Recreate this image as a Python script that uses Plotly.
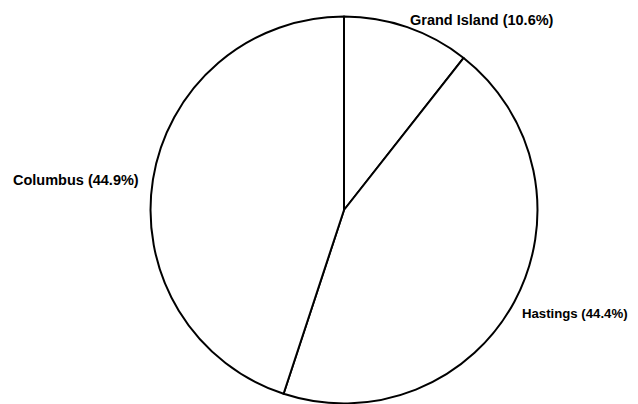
import plotly.graph_objects as go

labels = ["Grand Island", "Hastings", "Columbus"]
values = [10.6, 44.4, 44.9]
label_text = ["Grand Island (10.6%)", "Hastings (44.4%)", "Columbus (44.9%)"]

fig = go.Figure(go.Pie(
    labels=labels,
    values=values,
    sort=False,
    direction="clockwise",
    rotation=0,
    textinfo="none",
    hoverinfo="label+percent",
    marker=dict(colors=["white"] * 3, line=dict(color="black", width=2)),
    domain=dict(x=[0.2234, 0.8299], y=[0.021, 0.979]),
    showlegend=False,
))

W, H = 638, 404
label_pos = [(400, 12), (512, 305), (3, 172)]
label_size = [14.5, 13.2, 14.5]
for txt, (px, py), sz in zip(label_text, label_pos, label_size):
    fig.add_annotation(x=px / W, y=1 - py / H, xref="paper", yref="paper",
                       text="<b>" + txt + "</b>", showarrow=False,
                       xanchor="left", yanchor="middle",
                       font=dict(family="Liberation Sans", size=sz, color="black"))

fig.update_layout(
    width=W, height=H,
    margin=dict(l=0, r=0, t=0, b=0),
    paper_bgcolor="white", plot_bgcolor="white",
)
fig.write_html("out.html")
